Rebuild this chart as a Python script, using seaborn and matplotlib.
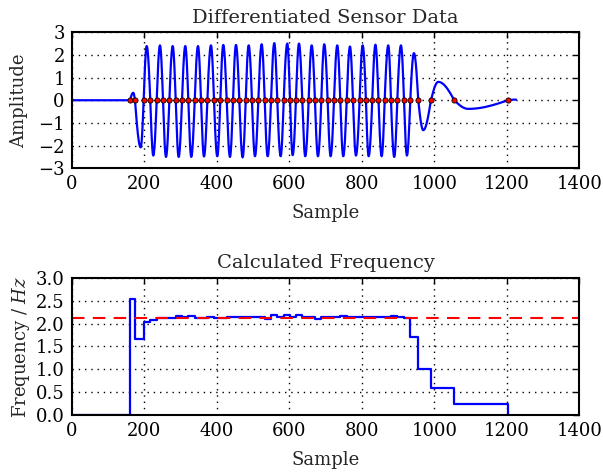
import numpy as np
import matplotlib
matplotlib.use("Agg")
import matplotlib.pyplot as plt
import seaborn as sns

# ---- data ----
# turning points / zero crossings of the differentiated signal (sample, amplitude)
knot_samples = [0, 160.7, 169.8, 174.5, 190.2, 198.5, 206.8, 216.7, 225.0, 234.3,
                243.4, 251.7, 260.0, 269.2, 278.5, 286.7, 295.0, 304.1, 313.2, 321.5,
                329.7, 339.1, 348.2, 356.5, 364.8, 374.0, 384.0, 392.3, 401.4, 409.7,
                418.0, 427.3, 436.4, 444.7, 453.0, 462.1, 471.4, 479.7, 488.0, 497.1,
                505.4, 514.5, 523.8, 532.1, 540.4, 549.5, 558.6, 566.8, 576.2, 584.5,
                594.4, 601.9, 609.3, 618.3, 626.7, 635.7, 644.0, 653.4, 661.7, 670.8,
                679.0, 688.3, 696.4, 705.8, 714.0, 723.1, 732.3, 740.5, 748.8, 758.2,
                767.3, 775.5, 783.8, 793.9, 802.3, 811.4, 818.8, 828.8, 837.5, 845.9,
                854.7, 862.9, 872.9, 880.3, 889.4, 897.7, 907.9, 916.2, 924.4, 933.5,
                943.7, 955.6, 969.4, 990.6, 1010.7, 1055.0, 1093.4, 1202.8, 1225.0]
knot_amps = [0, 0, 0.33, 0, -2.08, 0, 2.39, 0, -2.44, 0,
             2.42, 0, -2.50, 0, 2.39, 0, -2.50, 0, 2.39, 0,
             -2.50, 0, 2.39, 0, -2.48, 0, 2.42, 0, -2.47, 0,
             2.44, 0, -2.50, 0, 2.44, 0, -2.52, 0, 2.42, 0,
             -2.47, 0, 2.47, 0, -2.47, 0, 2.52, 0, -2.47, 0,
             2.50, 0, -2.42, 0, 2.50, 0, -2.47, 0, 2.42, 0,
             -2.47, 0, 2.47, 0, -2.47, 0, 2.42, 0, -2.47, 0,
             2.37, 0, -2.44, 0, 2.42, 0, -2.47, 0, 2.45, 0,
             -2.47, 0, 2.42, 0, -2.50, 0, 2.42, 0, -2.44, 0,
             2.08, 0, -1.32, 0, 0.81, 0, -0.38, 0, 0.03]

# detected zero crossings (red dots)
crossing_samples = [160.7, 174.5, 198.5, 216.7, 234.3, 251.7, 269.2, 286.7, 304.1, 321.5,
                    339.1, 356.5, 374.0, 392.3, 409.7, 427.3, 444.7, 462.1, 479.7, 497.1,
                    514.5, 532.1, 549.5, 566.8, 584.5, 601.9, 618.3, 635.7, 653.4, 670.8,
                    688.3, 705.8, 723.1, 740.5, 758.2, 775.5, 793.9, 811.4, 828.8, 845.9,
                    862.9, 880.3, 897.7, 916.2, 933.5, 955.6, 990.6, 1055.0, 1202.8]

# calculated frequency, step starts (sample) and values (Hz)
freq_samples = [0, 160.7, 174.5, 198.5, 216.7, 234.3, 251.7, 269.2, 286.7, 304.1,
                321.5, 339.1, 356.5, 374.0, 392.3, 409.7, 427.3, 444.7, 462.1, 479.7,
                497.1, 514.5, 532.1, 549.5, 566.8, 584.5, 601.9, 618.3, 635.7, 653.4,
                670.8, 688.3, 705.8, 723.1, 740.5, 758.2, 775.5, 793.9, 811.4, 828.8,
                845.9, 862.9, 880.3, 897.7, 916.2, 933.5, 955.6, 990.6, 1055.0, 1202.8]
freq_values = [0.0, 2.55, 1.66, 2.03, 2.08, 2.12, 2.12, 2.13, 2.16, 2.15,
               2.16, 2.12, 2.13, 2.14, 2.13, 2.13, 2.14, 2.15, 2.14, 2.14,
               2.14, 2.14, 2.10, 2.19, 2.14, 2.18, 2.14, 2.20, 2.14, 2.15,
               2.10, 2.14, 2.15, 2.15, 2.17, 2.15, 2.15, 2.14, 2.15, 2.15,
               2.14, 2.14, 2.17, 2.15, 2.12, 1.71, 1.01, 0.60, 0.24, 0.0]
target_freq = 2.13

x_ticks = [0, 200, 400, 600, 800, 1000, 1200, 1400]
amp_ticks = [-3, -2, -1, 0, 1, 2, 3]
freq_ticks = [0.0, 0.5, 1.0, 1.5, 2.0, 2.5, 3.0]


def smooth_curve(xs, ys, n=12):
    """Draw sine-shaped arcs between consecutive read turning points."""
    out_x, out_y = [xs[0]], [ys[0]]
    for (x0, y0), (x1, y1) in zip(zip(xs[:-1], ys[:-1]), zip(xs[1:], ys[1:])):
        t = np.linspace(0, 1, n + 1)[1:]
        if y0 == 0 and y1 != 0:
            seg = y1 * np.sin(np.pi / 2 * t)
        elif y0 != 0 and y1 == 0:
            seg = y0 * np.cos(np.pi / 2 * t)
        else:
            seg = y0 + (y1 - y0) * (1 - np.cos(np.pi * t)) / 2
        out_x.extend(x0 + (x1 - x0) * t)
        out_y.extend(seg)
    return np.array(out_x), np.array(out_y)


sns.set_theme(style="white")
plt.rcParams.update({
    "font.family": ["DejaVu Serif"],
    "mathtext.fontset": "dejavuserif",
    "xtick.direction": "in",
    "ytick.direction": "in",
    "xtick.top": True,
    "ytick.right": True,
    "xtick.major.size": 4,
    "ytick.major.size": 4,
    "xtick.color": "black",
    "ytick.color": "black",
    "axes.edgecolor": "black",
    "axes.linewidth": 1.5,
})

fig = plt.figure(figsize=(6.03, 4.74), dpi=100)
ax1 = fig.add_axes([0.1189, 0.645, 0.842, 0.287])
ax2 = fig.add_axes([0.1189, 0.1245, 0.842, 0.289])

sx, sy = smooth_curve(knot_samples, knot_amps)
sns.lineplot(x=sx, y=sy, ax=ax1, color="#0000ff", linewidth=1.6,
             estimator=None, sort=False)
sns.scatterplot(x=crossing_samples, y=[0] * len(crossing_samples), ax=ax1,
                color="#ff0000", edgecolor="black", linewidth=0.6, s=14, zorder=3)

sns.lineplot(x=freq_samples, y=freq_values, ax=ax2, color="#0000ff", linewidth=1.6,
             estimator=None, sort=False, drawstyle="steps-post")
ax2.axhline(target_freq, color="#ff0000", linewidth=1.5, dashes=(6, 4))

for ax in (ax1, ax2):
    ax.set_xlim(0, 1400)
    ax.set_xticks(x_ticks)
    ax.grid(True, color="black", linestyle=(0, (1, 3.5)), linewidth=1.0)
    ax.tick_params(labelsize=13, width=1, pad=5)
    ax.set_xlabel("Sample", fontsize=13, labelpad=8)

ax1.set_ylim(-3, 3)
ax1.set_yticks(amp_ticks)
ax1.set_ylabel("Amplitude", fontsize=13, labelpad=7)
ax1.set_title("Differentiated Sensor Data", fontsize=14, pad=7)

ax2.set_ylim(0, 3)
ax2.set_yticks(freq_ticks)
ax2.set_yticklabels([f"{v:.1f}" for v in freq_ticks])
ax2.set_ylabel("Frequency / $Hz$", fontsize=13, labelpad=3)
ax2.set_title("Calculated Frequency", fontsize=14, pad=7)

fig.savefig("out.png", dpi=100)
